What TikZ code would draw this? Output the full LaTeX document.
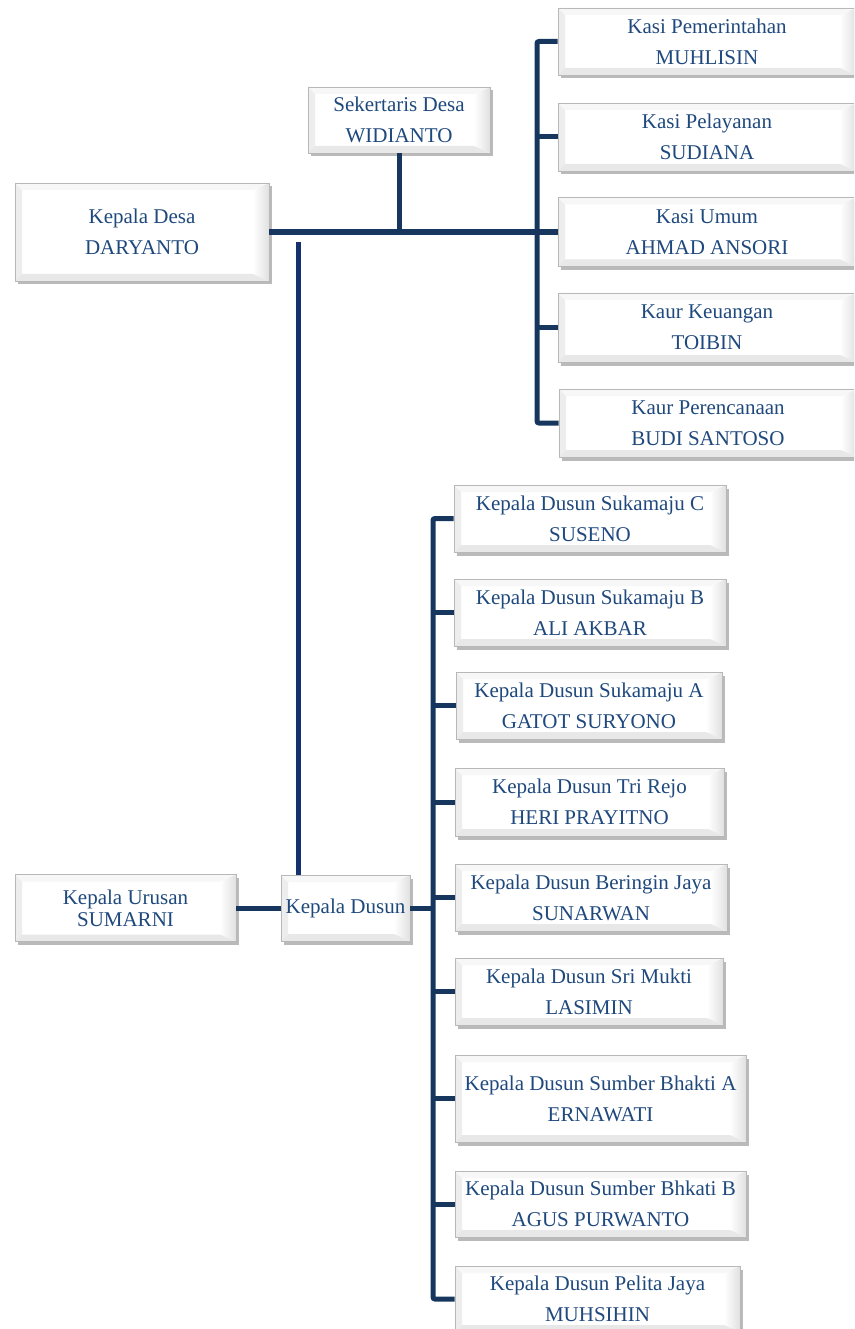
\documentclass[tikz,border=0pt]{standalone}
\usepackage{fontspec}
\setmainfont{Liberation Serif}
\usetikzlibrary{shadows,calc}
\definecolor{txt}{HTML}{1F497D}
\definecolor{ln}{HTML}{17365D}
\newcommand\bxfont{\fontsize{21}{31}\selectfont}
\tikzset{
  box/.style={draw=black!28, line width=0.8pt, fill=white, font=\bxfont, text=txt,
    align=center, inner sep=0pt,
    drop shadow={shadow xshift=2.5pt, shadow yshift=-3.5pt, opacity=0.45, fill=black!60},
    path picture={
      \fill[black!7] (path picture bounding box.north west) -- ([shift={(7pt,-7pt)}]path picture bounding box.north west)
        -- ([shift={(7pt,7pt)}]path picture bounding box.south west) -- (path picture bounding box.south west) -- cycle;
      \shade[left color=white, right color=black!12] ([shift={(-16pt,-7pt)}]path picture bounding box.north east)
        -- (path picture bounding box.north east) -- (path picture bounding box.south east)
        -- ([shift={(-16pt,7pt)}]path picture bounding box.south east) -- cycle;
      \fill[black!9] (path picture bounding box.south west) -- ([shift={(7pt,7pt)}]path picture bounding box.south west)
        -- ([shift={(-16pt,7pt)}]path picture bounding box.south east) -- (path picture bounding box.south east) -- cycle;
      \fill[black!3] (path picture bounding box.north west) -- ([shift={(7pt,-7pt)}]path picture bounding box.north west)
        -- ([shift={(-16pt,-7pt)}]path picture bounding box.north east) -- (path picture bounding box.north east) -- cycle;
    }},
  conn/.style={draw=ln, line width=5pt},
}
\begin{document}
\begin{tikzpicture}[x=1pt,y=-1pt]
\useasboundingbox (0,0) rectangle (854,1329);
\fill[white] (0,0) rectangle (854,1329);
\clip (0,0) rectangle (854,1329);

% top part
\node[box, minimum width=254pt, minimum height=98pt] (kd) at (142,232) {Kepala Desa\\DARYANTO};
\node[box, minimum width=182pt, minimum height=66pt] (sek) at (399,120) {Sekertaris Desa\\WIDIANTO};
\node[box, minimum width=298pt, minimum height=67pt] (k1) at (707,41.5) {Kasi Pemerintahan\\MUHLISIN};
\node[box, minimum width=298pt, minimum height=68pt] (k2) at (707,137) {Kasi Pelayanan\\SUDIANA};
\node[box, minimum width=298pt, minimum height=69pt] (k3) at (707,232) {Kasi Umum\\AHMAD ANSORI};
\node[box, minimum width=298pt, minimum height=69pt] (k4) at (707,327.5) {Kaur Keuangan\\TOIBIN};
\node[box, minimum width=298pt, minimum height=68pt] (k5) at (708,423) {Kaur Perencanaan\\BUDI SANTOSO};

% bottom part
\node[box, minimum width=221pt, minimum height=67pt, font=\fontsize{21}{22}\selectfont] (ku) at (125.5,908) {Kepala Urusan\\SUMARNI};
\node[box, minimum width=129pt, minimum height=66pt] (kdus) at (345.5,908) {Kepala Dusun};

\node[box, minimum width=272pt, minimum height=67pt] (d1) at (590,518.5) {Kepala Dusun Sukamaju C\\SUSENO};
\node[box, minimum width=272pt, minimum height=67pt] (d2) at (590,612.5) {Kepala Dusun Sukamaju B\\ALI AKBAR};
\node[box, minimum width=266pt, minimum height=67pt] (d3) at (589,705.5) {Kepala Dusun Sukamaju A\\GATOT SURYONO};
\node[box, minimum width=269pt, minimum height=68pt] (d4) at (589.5,802) {Kepala Dusun Tri Rejo\\HERI PRAYITNO};
\node[box, minimum width=272pt, minimum height=67pt] (d5) at (591,897.5) {Kepala Dusun Beringin Jaya\\SUNARWAN};
\node[box, minimum width=268pt, minimum height=67pt] (d6) at (589,991.5) {Kepala Dusun Sri Mukti\\LASIMIN};
\node[box, minimum width=291pt, minimum height=87pt] (d7) at (600.5,1098.5) {Kepala Dusun Sumber Bhakti A\\ERNAWATI};
\node[box, minimum width=291pt, minimum height=66pt] (d8) at (600.5,1204) {Kepala Dusun Sumber Bhkati B\\AGUS PURWANTO};
\node[box, minimum width=285pt, minimum height=66pt] (d9) at (597.5,1299) {Kepala Dusun Pelita Jaya\\MUHSIHIN};

% connectors top
\coordinate (busR) at (537,0);
\draw[conn, line width=6pt] (kd.east) -- (k3.west);
\draw[conn] (sek.south) -- (sek.south |- kd.east);
\draw[conn, rounded corners=2pt] (k1.west) -- (k1.west -| busR) -- (k5.west -| busR) -- (k5.west);
\draw[conn] (k2.west) -- (k2.west -| busR);
\draw[conn] (k4.west) -- (k4.west -| busR);

% vertical from Kepala Desa to Kepala Dusun
\coordinate (vtop) at (298,242);
\draw[conn, draw=ln!90!blue] (vtop) -- (vtop |- kdus.north);

% bottom connectors
\coordinate (busD) at (433,0);
\draw[conn] (ku.east) -- (kdus.west);
\draw[conn] (kdus.east) -- (kdus.east -| busD);
\draw[conn, rounded corners=2pt] (d1.west) -- (d1.west -| busD) -- (d9.west -| busD) -- (d9.west);
\foreach \n in {d2,d3,d4,d5,d6,d7,d8}
  \draw[conn] (\n.west) -- (\n.west -| busD);
\end{tikzpicture}
\end{document}
